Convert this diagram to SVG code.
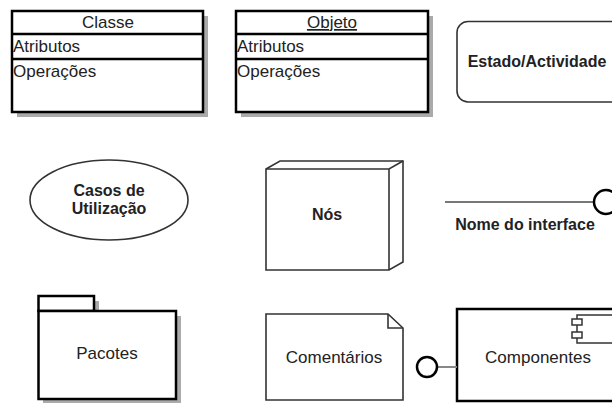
<svg xmlns="http://www.w3.org/2000/svg" width="612" height="403" viewBox="0 0 612 403">
<style>
.b{font-family:"Liberation Sans",Arial,sans-serif;font-weight:bold;font-size:16px;fill:#222}
.r{font-family:"Liberation Sans",Arial,sans-serif;font-size:17px;fill:#222}
.sh{fill:#aaa;stroke:none}
.thick{fill:#fff;stroke:#000;stroke-width:2.5}
.thin{fill:#fff;stroke:#333;stroke-width:1.6}
.m{text-anchor:middle}
</style>
<rect width="612" height="403" fill="#fff"/>
<g id="classe">
<rect class="sh" x="17" y="16" width="191" height="101"/>
<rect class="thick" x="12" y="11" width="191" height="101"/>
<line x1="12" y1="34" x2="203" y2="34" stroke="#000" stroke-width="2.5"/>
<line x1="12" y1="59" x2="203" y2="59" stroke="#000" stroke-width="2.5"/>
<text class="r m" x="108" y="28">Classe</text>
<text class="r" x="13" y="52">Atributos</text>
<text class="r" x="13" y="77">Operações</text>
</g>
<g id="objeto">
<rect class="sh" x="241" y="16" width="192" height="101"/>
<rect class="thick" x="236" y="11" width="192" height="101"/>
<line x1="236" y1="34" x2="428" y2="34" stroke="#000" stroke-width="2.5"/>
<line x1="236" y1="59" x2="428" y2="59" stroke="#000" stroke-width="2.5"/>
<text class="r m" x="332" y="28" text-decoration="underline">Objeto</text>
<text class="r" x="237" y="52">Atributos</text>
<text class="r" x="237" y="77">Operações</text>
</g>
<g id="estado">
<rect class="thin" x="457" y="21.5" width="170" height="80.5" rx="11"/>
<text class="b m" x="537" y="67">Estado/Actividade</text>
</g>
<g id="casos">
<ellipse class="thin" cx="109" cy="200" rx="79" ry="40" stroke="#111"/>
<text class="b m" x="109" y="196">Casos de</text>
<text class="b m" x="109" y="214">Utilização</text>
</g>
<g id="nos">
<path class="thin" d="M266,169 L280,161 L403,161 L403,262 L389,270 L266,270 Z"/>
<path d="M266,169 L389,169 L403,161 M389,169 L389,270" fill="none" stroke="#333" stroke-width="1.6"/>
<text class="b m" x="327" y="220">Nós</text>
</g>
<g id="interface">
<line x1="445" y1="202" x2="594" y2="202" stroke="#777" stroke-width="2"/>
<circle cx="606" cy="202" r="12" fill="#fff" stroke="#000" stroke-width="2.5"/>
<text class="b m" x="525" y="230">Nome do interface</text>
</g>
<g id="pacotes">
<rect class="sh" x="43" y="301" width="56" height="15"/>
<rect class="sh" x="43" y="316" width="138" height="88"/>
<rect class="thick" x="38.5" y="296" width="55.5" height="15"/>
<rect class="thick" x="38.5" y="311" width="137.5" height="88"/>
<text class="r m" x="107" y="359">Pacotes</text>
</g>
<g id="comentarios">
<path class="thin" d="M266,314 L388,314 L403,328 L403,400 L266,400 Z"/>
<path d="M388,314 L388,328 L403,328" fill="none" stroke="#333" stroke-width="1.6"/>
<text class="r m" x="334" y="363">Comentários</text>
</g>
<g id="componentes">
<rect x="457" y="309" width="170" height="92" fill="#fff" stroke="#000" stroke-width="2.5"/>
<rect x="577" y="315" width="50" height="28" fill="#fff" stroke="#333" stroke-width="1.5"/>
<rect x="572" y="319" width="10" height="6" fill="#fff" stroke="#333" stroke-width="1.5"/>
<rect x="572" y="332" width="10" height="6" fill="#fff" stroke="#333" stroke-width="1.5"/>
<text class="r m" x="538" y="363">Componentes</text>
</g>
<g id="connectors">
<line x1="437" y1="367" x2="457" y2="367" stroke="#888" stroke-width="2"/>
<circle cx="427" cy="367" r="10" fill="#fff" stroke="#000" stroke-width="2.5"/>
</g>
</svg>
